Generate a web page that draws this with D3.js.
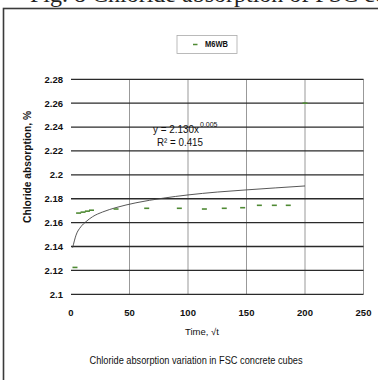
<!DOCTYPE html>
<html>
<head>
<meta charset="utf-8">
<script src="https://cdn.jsdelivr.net/npm/d3@7"></script>
<style>
  body { margin: 0; background: #fff; }
  svg { display: block; }
  .lbl { font-family: "Liberation Sans", Arial, sans-serif; fill: #111; }
</style>
</head>
<body>
<svg width="378" height="380"></svg>
<script>
// measured points (time, chloride absorption %)
var times  = [3.4, 6.5, 10.3, 14, 17.5, 38.5, 64.7, 92.6, 114, 131, 146.7, 161, 173.8, 185.7, 200];
var values = [2.1225, 2.168, 2.1688, 2.1696, 2.1704, 2.1714, 2.172, 2.172, 2.1714, 2.172, 2.1725, 2.1745, 2.1745, 2.1745, 2.26];

// power trendline
var trendT = [1.4, 4.3, 8.5, 12.8, 18.5, 27, 38.5, 55.5, 78.9, 100, 125, 149.8, 175, 200];
var trendV = [2.139, 2.1495, 2.1566, 2.1608, 2.165, 2.1689, 2.1726, 2.1766, 2.1805, 2.1832, 2.1856, 2.1874, 2.1891, 2.1907];

var xTicks = [0, 50, 100, 150, 200, 250];
var yTicks = [2.1, 2.12, 2.14, 2.16, 2.18, 2.2, 2.22, 2.24, 2.26, 2.28];

var seriesName = "M6WB";
var green = "#4f8a34";

var svg = d3.select("svg");
svg.append("rect").attr("width", 378).attr("height", 380).attr("fill", "#fff");

// cut-off page text above the figure
svg.append("text")
    .attr("x", 30).attr("y", 2)
    .style("font", "24px 'Liberation Serif', serif")
    .attr("fill", "#222")
    .text("Fig. 8 Chloride absorption of FSC concrete");

// outer frame
svg.append("rect")
    .attr("x", 3.5).attr("y", 8.5)
    .attr("width", 420).attr("height", 420)
    .attr("fill", "none")
    .attr("stroke", "#3a3a3a")
    .attr("stroke-width", 1.6);

var x = d3.scaleLinear().domain([0, 250]).range([71, 363.5]),
    y = d3.scaleLinear().domain([2.1, 2.28]).range([294.3, 79.3]);

var g = svg.append("g");

// vertical grid
g.selectAll(".vg").data(xTicks.slice(1)).enter().append("line")
    .attr("x1", d => x(d)).attr("x2", d => x(d))
    .attr("y1", y(2.28)).attr("y2", y(2.1))
    .attr("stroke", "#999").attr("stroke-width", 1);

// horizontal grid
g.selectAll(".hg").data(yTicks).enter().append("line")
    .attr("x1", x(0)).attr("x2", x(250))
    .attr("y1", d => y(d)).attr("y2", d => y(d))
    .attr("stroke", "#2a2a2a").attr("stroke-width", 1.3);

// y tick labels
g.selectAll(".yl").data(yTicks).enter().append("text")
    .attr("class", "lbl")
    .attr("x", 63).attr("y", d => y(d))
    .attr("dy", "0.35em")
    .attr("text-anchor", "end")
    .style("font-size", "9.5px").style("font-weight", "bold")
    .text(d => d3.format("")(d));

// x tick labels
g.selectAll(".xl").data(xTicks).enter().append("text")
    .attr("class", "lbl")
    .attr("x", d => x(d)).attr("y", 313)
    .attr("dy", "0.35em")
    .attr("text-anchor", "middle")
    .style("font-size", "9.5px").style("font-weight", "bold")
    .text(d => d);

// axis titles
svg.append("text")
    .attr("class", "lbl")
    .attr("transform", "translate(27,167) rotate(-90)")
    .attr("dy", "0.35em")
    .attr("text-anchor", "middle")
    .attr("textLength", 112).attr("lengthAdjust", "spacingAndGlyphs")
    .style("font-size", "10px").style("font-weight", "bold")
    .text("Chloride absorption, %");

svg.append("text")
    .attr("class", "lbl")
    .attr("x", 202).attr("y", 332)
    .attr("dy", "0.35em")
    .attr("text-anchor", "middle")
    .style("font-size", "9.5px")
    .text("Time, √t");

svg.append("text")
    .attr("class", "lbl")
    .attr("x", 196).attr("y", 360)
    .attr("dy", "0.35em")
    .attr("text-anchor", "middle")
    .attr("textLength", 213).attr("lengthAdjust", "spacingAndGlyphs")
    .style("font-size", "11px")
    .text("Chloride absorption variation in FSC concrete cubes");

// trendline
var line = d3.line()
    .curve(d3.curveMonotoneX)
    .x((d, i) => x(trendT[i]))
    .y(d => y(d));

g.append("path")
    .attr("d", line(trendV))
    .attr("fill", "none")
    .attr("stroke", "#444")
    .attr("stroke-width", 0.9);

// dash markers
g.selectAll(".pt").data(values).enter().append("line")
    .attr("x1", (d, i) => x(times[i]) - 2.5)
    .attr("x2", (d, i) => x(times[i]) + 2.5)
    .attr("y1", d => y(d)).attr("y2", d => y(d))
    .attr("stroke", green).attr("stroke-width", 1.6);

// equation
svg.append("text")
    .attr("class", "lbl")
    .attr("x", 153).attr("y", 133)
    .attr("textLength", 46).attr("lengthAdjust", "spacingAndGlyphs")
    .style("font-size", "10.5px")
    .text("y = 2.130x");
svg.append("text")
    .attr("class", "lbl")
    .attr("x", 200).attr("y", 127)
    .style("font-size", "7px")
    .text("0.005");

svg.append("text")
    .attr("class", "lbl")
    .attr("x", 157).attr("y", 146)
    .attr("textLength", 46).attr("lengthAdjust", "spacingAndGlyphs")
    .style("font-size", "10.5px")
    .text("R² = 0.415");

// legend
var lg = svg.append("g");
lg.append("rect")
    .attr("x", 177).attr("y", 35.5)
    .attr("width", 60).attr("height", 18)
    .attr("fill", "#fff")
    .attr("stroke", "#aaa").attr("stroke-width", 0.8);
lg.append("line")
    .attr("x1", 193).attr("x2", 197.5)
    .attr("y1", 44.5).attr("y2", 44.5)
    .attr("stroke", green).attr("stroke-width", 1.5);
lg.append("text")
    .attr("class", "lbl")
    .attr("x", 205).attr("y", 44.5)
    .attr("dy", "0.35em")
    .attr("textLength", 23).attr("lengthAdjust", "spacingAndGlyphs")
    .style("font-size", "8.5px").style("font-weight", "bold")
    .text(seriesName);
</script>
</body>
</html>
